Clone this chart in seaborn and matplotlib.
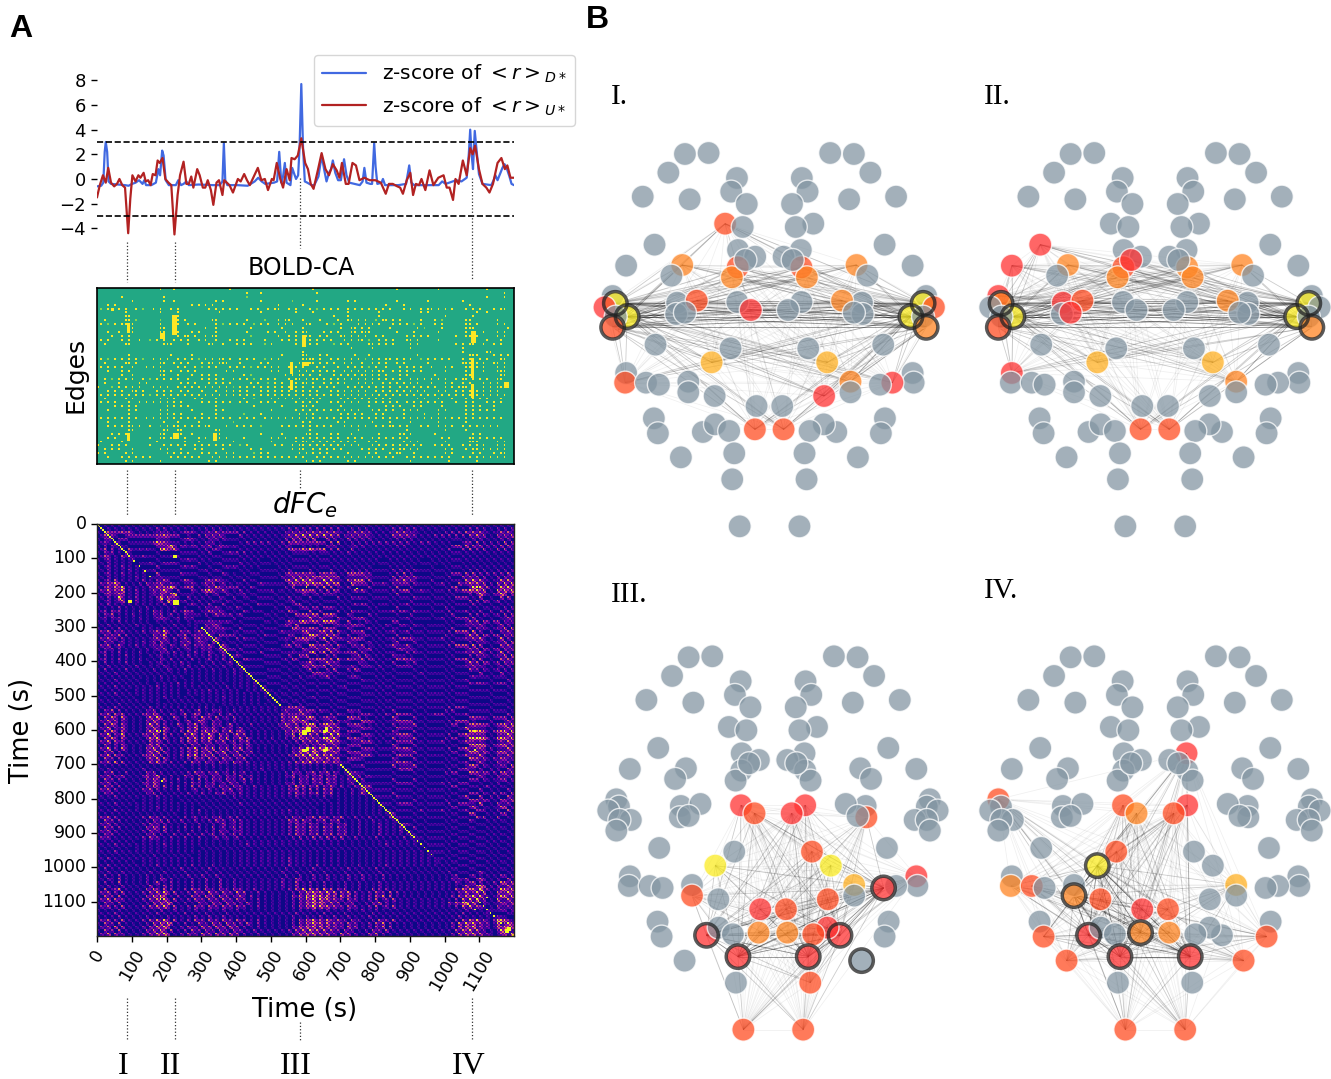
import numpy as np
import pandas as pd
import seaborn as sns
import matplotlib.pyplot as plt
from matplotlib.collections import LineCollection
from matplotlib.lines import Line2D
from matplotlib.transforms import blended_transform_factory

W, H = 1331, 1079

# z-score traces (time in s, value)
blue_t = [0, 12, 18, 22, 25, 29, 33, 40, 60, 80, 90, 100, 110, 120, 130, 135, 140, 155, 168, 175, 180, 186, 190, 196, 205, 225, 232, 240, 247, 255, 262, 290, 330, 350, 358, 362, 366, 372, 400, 430, 450, 460, 470, 480, 505, 514, 520, 526, 531, 536, 541, 552, 557, 563, 568, 574, 578, 583, 588, 593, 600, 612, 620, 632, 641, 648, 655, 662, 668, 673, 680, 688, 696, 705, 712, 720, 735, 750, 758, 763, 769, 780, 785, 791, 795, 800, 812, 816, 822, 860, 882, 891, 897, 905, 950, 975, 985, 995, 1025, 1040, 1055, 1061, 1065, 1069, 1073, 1078, 1083, 1090, 1100, 1125, 1132, 1137, 1143, 1150, 1157, 1163, 1170, 1177, 1183, 1190]
blue_v = [-0.6, -0.55, -0.3, 2.2, 3.0, 2.2, -0.2, -0.4, -0.45, -0.5, -0.55, -0.4, -0.3, -0.1, -0.4, -0.1, -0.5, -0.5, -0.3, 0.8, 0.3, 2.3, 1.9, -0.1, -0.5, -0.5, -0.1, -0.5, -0.4, -0.2, -0.5, -0.45, -0.5, -0.5, -0.2, 2.9, -0.1, -0.5, -0.5, -0.55, -0.2, 0.1, -0.2, -0.4, -0.3, -0.2, 2.2, -0.3, 0.2, 1.3, -0.3, -0.5, 0.9, 0.4, 0.0, 0.3, 2.5, 7.7, 2.5, -0.2, -0.3, -0.5, -0.5, 0.2, 1.9, 0.8, -0.2, 0.5, 0.8, 1.5, 0.5, -0.1, -0.1, 1.6, 0.3, -0.3, -0.4, -0.5, -0.2, 0.9, -0.3, -0.4, -0.4, 2.9, 1.0, -0.4, -0.3, 0.0, -0.5, -0.5, -0.4, 1.1, -0.3, -0.5, -0.5, -0.5, -0.2, -0.4, -0.1, -0.2, 0.1, 2.0, 4.0, 2.0, 0.8, 3.9, 2.4, 0.4, -0.4, -0.5, -0.1, 0.3, -0.1, 0.4, 0.9, 1.2, 0.8, 0.2, -0.4, -0.5]
red_t = [0, 8, 17, 25, 32, 40, 49, 57, 64, 72, 80, 89, 95, 101, 110, 118, 124, 133, 139, 146, 153, 159, 167, 173, 179, 187, 195, 204, 212, 221, 230, 237, 247, 255, 262, 269, 275, 286, 293, 302, 309, 316, 325, 332, 341, 348, 358, 363, 378, 388, 402, 410, 420, 428, 436, 446, 459, 469, 479, 488, 499, 504, 513, 523, 531, 541, 550, 555, 564, 573, 583, 594, 602, 610, 618, 631, 641, 652, 662, 673, 684, 692, 699, 710, 718, 729, 739, 749, 763, 778, 794, 810, 824, 833, 844, 857, 865, 873, 884, 894, 902, 910, 919, 926, 937, 949, 960, 974, 989, 998, 1006, 1016, 1023, 1032, 1044, 1055, 1065, 1072, 1079, 1090, 1100, 1111, 1120, 1130, 1143, 1154, 1164, 1171, 1180, 1190]
red_v = [-1.5, -0.5, 0.3, -0.3, 0.9, -0.3, -0.6, -0.4, 0.0, -0.5, -0.7, -4.4, -1.6, 0.3, -0.2, 0.3, 0.1, 0.5, -0.2, -0.1, -0.5, 0.4, 0.3, 1.5, 1.3, 1.7, 0.0, -0.3, -0.5, -4.5, -1.3, 0.3, 1.4, -0.4, -0.4, 0.2, -0.7, 0.8, 0.3, -0.7, -0.7, -0.1, -0.9, -2.1, -0.3, -0.1, -1.3, -0.1, -0.5, -1.1, 0.0, -0.2, 0.4, -0.1, -0.5, 0.1, 0.9, -0.1, 0.0, -0.9, 0.0, -0.1, 1.3, 0.0, -0.7, 0.8, -0.1, 1.7, 1.6, 1.9, 3.3, 1.3, 0.8, -0.4, -0.8, 0.8, 2.1, 0.8, 0.3, 1.2, 0.7, 0.1, 1.3, -0.4, -0.4, 1.3, 1.1, -0.1, 0.1, -0.1, -0.1, -0.3, -1.2, -0.4, -0.4, -0.6, -0.7, -1.2, -0.1, 0.5, -1.3, -0.4, -0.5, 0.0, -0.9, 0.7, -0.5, 0.1, 0.3, -0.7, -0.7, -1.7, 0.0, -0.4, 1.5, 0.3, 2.5, 2.0, 2.7, 0.8, -0.4, -0.7, -1.1, -0.4, 1.3, 1.7, 0.8, 1.1, 0.1, 0.1]
event_times = [86, 222, 580, 1071]
event_names = ["I", "II", "III", "IV"]

# BOLD-CA raster, 120 time bins by edge rows: . background, 5 pale, 9 bright
edge_rows = [
    "..................9...9...............9.......................9.......................9...........9.............9.......",
    "...........................................9...9...............9.....................................................9.",
    ".......9...........9.......................5....................................................................9....9..",
    "..........9........9..9...........9.9..........9........5......9........9.9...........9........9.........9.............",
    "...9.9.....................9.9.9.9..................9......9.......................9....9..................9...........",
    ".5.99.9.9..9.5..9.9..9.9........9.9.9.9.9...9.9..9.99..9.9...9.5.9.9.9..9.9.9.9.9.9.9...9.9..9.99.9.9.9...9.9.9...9.99.",
    "........9.........9....9...........9...........9.........9....9.........9........9...........9.9.............9..9.......",
    "........99............99............................................9...9........9..................9.......9...........",
    "..9.....99.5......5...99.9.......99........9....5...9.99...9....9....9..99.9.9..5.99.9.9.....9...9.5......99.......9....",
    ".9.5.9.99.9.......9...99..9.9.....9.5.9.9.9..5.9.9..9.9.9...99....9.5.9....9.9.9.9...9.9.9.5.9...9.9......99.9.....9.9.",
    "..........9.......99...........9..9.........9........9.....9..........9..99.9.9.....9.......9.5....9......999.........9.",
    "...9..9...9.......99...9...9.9....9........9.....9.9..9..9.99....9.9.9...99.999.......9....9......9.......9.9..9...9.9..",
    "....9..9.9........9....9.99.9..9.99.........5.......9..9.9..99..9.9...99.9.9.9..9.9......9.9.9.9.......9..99.9.....9.9.",
    ".9.9...9.9..9..5.9.9..9.9.9..9.9..9...9.9.9.....9....9.9.9.9.9.9.9.9...9.9.99.5..9.9.9...99.9.....9.........9...9...9..",
    "..9.....99.........999....9.....99..9...9.9.9...5.9......9.9.9.9....5.9.9.....99.9.9.9....9.9..........9.9.99..9..9.9...",
    ".........................................................................9.....9..........9..............9..............",
    "...........................................................9.............................................9......99.....",
    ".........9...........9.....9.........................9.....99...9.9.......9...9.............9..............999....9.9.9..",
    ".9.5.9.9.9.9.5..9.9.9..9.9.9.5.9.9.99.9..9.9.9..5.9.9......9999.9..9.9.9.9.9.5.9.9.99.9.9.9..5.9.9.9.9...9.9..9.9...99.",
    "..9.....99.9......99..9.9.9...9.99.999...9.....9.9........99.99.9.9.9..9.9..9..9.9.9..9.9......9.........999.9.9..99.9.",
    ".9.9.9.9..9...9.9.9....9.9..9.5.9.9...9.9.9.5.9.9.9.9..9.9.9...9.9...9..9.9.9.5.9..9...9.9.9.9..9...9.9...9999.9...9.9.",
    "...9...9.9........99.9..9.9.9........9.9..........9.9...9.9.9.9.9.9.9..9.9.9.9.9.99..9.9.9.9.9......9.....9.9..9...999.",
    ".......9..9.......99...9...9..9.9.9.......9.5.........9.9.99.9..9...9.9.9.9.99.9.9.9...9.9.......9........99........99.",
    "..9.5.9.9.9..9.5.9.9.9.9..9...9.9.9.9..9.9.9.5.9.9.9...9.99.9.99.9.9.9.9.9.9.9.9.9.9.9.9..9.9.9.9.9.9..9.99.9.9.9..99.",
    "..9...9.....9.9.........9.9.9...9.9.9.9.....9.9..5.9.9...9.99.9..9.9.9.9...9.9.9..9.9.9.9.9.9...9...9.9..9.9...9.9.9...",
    "9...5.9.9.9.9...9.9.9..9.9.9.9.9.9.9.9.5.9.9.9.9.9.9.9.9.9.9..9.9.9.9...9.9.9.9.9.9.9..9.9.9.9.9.9..9.9.999.9..9.9.99.",
    "...9.9.9..99.9...9.9.9..9.9...9...9..9.9.9.9...9.9.9.9.9.9.9.9.9...9.9.9.9.9.9..9.9.9.9.9.9.9.9...9.9..9.9.9.9.9.9.9..",
    ".9.9.9.9.9.9.9.5.9.9.9.9.9.9.9.9.9.9.9.9.9.9.9.9.9.9.9.9.9.9.9.9.9.9.9.9.9.9.9.9.9.9.9.9.9.9.9.9.9.9.9.9.9.9.9.9.9.9.9",
    "..9.....9.9.......9.9.9.....9.9...9.......9..5....9.9.9.9.9.9.9.9.....9.9.9.9.9.9.9.9.......9.9...9...9...9.9.9.9...9..",
    ".9.9.9...9..9.9.9.9.9.9.9.....9.9.9.9.9..9.9...9.9.9.....9.9.9.9...9.9.9.9.9..9.9.9.9.9..9.9.9.9.9.9...9..9.9...9.9.9.",
    ".....9.9.9.9........9.9.9.9.......9..........9.......9.....99.9.......9.......9....9.9.9...9.9.....9......9.9.9...9.....",
    "...9.....9.9......9.9......9......9.9.............9......9.9.9.9.9.9.9.9.9.9...9.9.9.9..9.9.9.....9.9.....9.9.9.9.9.....",
    ".........9........9.9.9.9.....9...9.......5....9..........9.9.9.......9.9.9.9...9.9.....9.....9...9.......9.9...........",
    ".9.9.9.9.9.9..9.9.9.9.9.9.9.9.9.9.9.9.9..9.9.9..9.9.9.9.9.9.9.9.9.9.9.9.9.9.9.9.9.9.9.9.9.9.9.9.9.9.9.9.9.9.9.9.9.9.9.",
    "...9.....9.........9...9.....9.........5...................9.9.......9.9.......9....9.....9.......9.......9.............",
    "...9.9.9.99.9..9..5.9.99.9.9.9.99....9..9.9.9..5.....9.9.9.9.9.9.9.9...9.9.9.9..9.9.99.9.9...9.9..9.9.9..9.9.9.9.9.9...",
    ".........99........99..99.........99.........................9.............9.............9..........9.....9.............",
    "....9.9.99........99....9..9.......9...........9.....9......99.9...9.9...9.......9.....99.9......9..........9.9.........",
    "...9.9.........9..99.9...9...9.9...9.9....9.......9.9.9..9.9.9.9.9.9.9..9.9.9..9.9.9.9.9.9.........9.9.....99.9.9.9.9..",
    ".9.....9.........9.......9...9.........9..........9......9.99.9.9.9.9.9.9.9...9.9.......9.9.9.......9......999.....9.9.",
    "9...9.9.9......9...9.9.9.9..9.9.9.9.9.9..5.9.......9.9..9.99.9.9.9.9.9.9.9.9...9.9.9.9.9.9.9.9...9.9.9...9.9.9.9...9.9.",
    "..9.9.9...9.......9.9...9...9.9.....9.......9..9........9.99..9.9.9.9.9.....9.9.9.9..9.99.9.9.......9.9...9.99.9.9.9.9.",
    "9.9.....9.9.........9.9.9.9...9.9.9..9.9.....5.9.9........9.9.9.9.9.....9.....9.9...9.99...9........9.9.....9.9...9.99.",
    "...9...9.9.9.9.9.....9.9.9.9.9...9.9.9.9.9.9.9.9.9.9.9.9.9.9...9.9.9.9.9.9.9.9.9.9.9.9...9.9.9.9.9.9.9...9.9.9.9.9.9.9",
    "........9.9.......9.............9.9.........................9.9.9.......9.9...............9..........9.......9.........",
]
# bright clumps of the raster: time s, fine row, width and height in fine cells
edge_clumps = [(89, 18, 2, 5), (219, 14, 3, 10), (180, 23, 3, 3), (223, 74, 3, 3), (335, 74, 2, 4), (593, 24, 2, 6), (559, 38, 2, 6), (559, 47, 2, 5), (593, 38, 4, 2), (1079, 22, 3, 6), (1079, 36, 2, 10), (1079, 49, 2, 7), (1170, 48, 3, 3), (89, 74, 2, 4), (40, 10, 2, 2)]

# dFC_e lower triangle, 120 x 120 bins of 10 s, digit is tenths of the colour range
dfc_rows = [
    "1",
    "01",
    "102",
    "0131",
    "10221",
    "012103",
    "1020210",
    "01302011",
    "102120104",
    "0132010312",
    "10120101012",
    "010201010100",
    "1012010201010",
    "01020101020101",
    "101201020101010",
    "0102010101020101",
    "10120301010102010",
    "021325201010203122",
    "1023142601010102142",
    "02141325010201013135",
    "102312430102010121421",
    "0102019201020101029142",
    "10120124010201010130821",
    "010201010101010101020101",
    "1010102010101020101010100",
    "01202120101020103120102013",
    "102130101020101021301201021",
    "0120212010102010123210120212",
    "10101020101010100101010100101",
    "010201010102010100101020101010",
    "1010102010100101010201010100101",
    "02130212010102012315201021201311",
    "102121302010101031250102130121213",
    "0213120201010101231310201310231210",
    "10312012010102013041201021301321031",
    "021301310102010121310210131021213102",
    "1021202010101020121301020120102120131",
    "01201020101020101021202010102010210120",
    "102010102010100101201010102010102010201",
    "0120102010102010102102010102010120102010",
    "10201010201010010120101020100101020101201",
    "010201010102010101021010102010201010201010",
    "1020101020101010201021010201010102010102012",
    "01010201010101010101010101010101010101020101",
    "101010101010101010201010100101010101010101010",
    "0101020101010010101010100101010101010101010101",
    "10101010101010100101010201010010101010010101010",
    "010102010101010102010101010101010101020101010101",
    "1010101010010101010101010010101020101010100101010",
    "01010201010101010101010100101010101010101010101010",
    "101010101010010101020101010100101010201010101010101",
    "0101010101010101010010101010101010101010101010100101",
    "10101020101010100101010101010101010010101010101010101",
    "010102010101010201010101010101020101010101010101010101",
    "1021302010101021302010102010130102120102010101010101013",
    "02130313010102314201021013013201210301201010101010101312",
    "103142041010102415301031020120412030120301010101010103124",
    "0214130210101031520201020130143103120102010101010101031252",
    "10314203101010251302010310214021031201301010201010102152130",
    "021502141010103152042010203150231410312013010101010102131524",
    "1031420310101024260310102041302514202140231010101010103142523",
    "02150215010102315203020103152031520413024130101010101021505214",
    "103142031010102425031010204140315204150214031010102010203152413",
    "0214031201010103132020102031302130213013021301010101010102031314",
    "10310203101010241402010102031203120212031203101010101020102130213",
    "021502041010103261402010203150241503140314021010101010102141526152",
    "1031302010101024150310102031403140315021402130101010101031526173152",
    "02140312010102325130201020415024140213031302010101010102142517261425",
    "103120201010102314031010102031203120312021301010101010102031415231413",
    "0213040301010103141202010203120312031204120201010101010203142513142132",
    "10101010101010101010101010010101020101010101010101010101010101010101011",
    "010201010101020101010101010102010101020101010102010101010201010102010101",
    "1021301020101031302010101020312021301203012010101010102031202130213021012",
    "02130213010102412501020103120312031203120301201010101021402130213021301021",
    "103120201010103142030102010203020312031201302010101010102031203120312010213",
    "0213020101010231520102010203120213012031202010101010102130312021303120101301",
    "10312020101010314203010201030203120312031201020101010102041302130213102010212",
    "021302010101021302010102010120102010213012010101010101021302030203130101020131",
    "1021201010101021302010101020102010213012020101010101010203120213021301010201312",
    "01010201010101010201010101010101010101020101010101010101020101010201010101010101",
    "101010101010010101010100101010101010101010101010101010101010101010100101010101010",
    "0101020101010101010101010101010101010101020101010101010101010101010101010101010101",
    "10101010100101010201010101010010101010101010101010101010101010100101010101010101010",
    "010102010101010101010101010102010101010101010101010101020101010101010101010101010101",
    "1010101010101010101010100101010101010101010101010101010101010101010101010101010101011",
    "02130201010102031202010102012012021301202010101010101020312021303120213010201020101021",
    "103120201010102031303010201020102031201302010101010101031303120213021301010201020101012",
    "0213020101010203120201010201020102013012020101010101010203120312021302130102010102010102",
    "10312020101010314203010102010201030120130201010101010102031203120312031201020101020101021",
    "021302010101020312030102010201020203120212010101010101020312031203120213010201010201010201",
    "1021201010101021302010201020102013012013020101010101010203120213021302130102010102010101011",
    "02120101010102031201020102010201012012012010101010101010203020302030203010201010201010102011",
    "101010101010010101010101010101010101010101010101010101010101010101010101010101010101010101011",
    "0101020101010101010201010101010101010101010201010101010101010101010101010101010101020101010101",
    "10101010100101010101010101010010101010101010101010101010101010101010101010101010101010101010101",
    "010102010101010101010101010101010101010101010101010101010101010101010101010101010101010101010101",
    "1010101010101010201010101010010101010101010101010101010101010101010101010101010101010101010101011",
    "01020101010101010101010101010101010101010101010101010102010101010101010101010101010101010101010101",
    "101010101010010101010101010101010101010101010101010101020101010101010101010101010101010101010101011",
    "0102010101010101020101010102010102010101010101010101010201010102010101010102010101020101010101010101",
    "10201010101010101010101020101010201010101010101010101020101010201010101020101010201010101010101010101",
    "010201020101010201020101020101020102010101010101010102010201020102010102010201010201010101010101010102",
    "1020102010101020102010101020102010201010101010101010102010201020102010102010201010201010101010101010101",
    "01021030101010201032020101020103010301020101010101010201032010201020101020102010102010101010101010101021",
    "102010301010102013010201010201020103010201010101010102010301020102010102010201010201010101010101010101021",
    "0102010201010103010302010102010301030102010101010101020103010201020101020102010102010101010101010101010101",
    "10301240101010314203020102031203120312031201020101010102031504130413021301020103020201010101010101010103142",
    "021302030101020314152030102031204120312041301020101010102031525241514031402010203120302010101010101010102141",
    "1031203010101031526301020103120413041302131020101010101031415262514130413020102031403010101010101010102031426",
    "02140312010102031415203010203120312031203120102010101010203142615241312031201020301203010101010101010102041519",
    "103120301010102041526301020103120413041302031020101010102031526253141302130102031402010101010101010103142691510",
    "0213020301010203141520301020312031203120312010201010101020314261524131203120102030120301010101010101010204151321",
    "10101020101010201030102010102010201020102010101010101010102010201020101020102010201010101010101010101010102010102",
    "010102010101010102010101020101020101020101010101010101010201010102010102010101020101010101010101010101010201010110",
    "1010102010101020101020101010201020102010101010101010101020102010201020102010102010101010101010101010101020101010101",
    "02130203010102031415203010203120312031203120102010101010203142513142131203120102031203010101010101010102031425131029",
    "103120301010102041526301020103120413041302031020101010102031425241413120312010203140201010101010101010204152513120151",
    "0213040301010203152630102031204130413041302010201010101031526251514131204130102031403010101010101010102041526131201536",
    "10312030101010314152030102031203120312031201020101010102031415241413120312010203120301010101010101010103142514120102631",
    "021403120101020315263010203120413041304130201020101010103152625141412041302010314020101010101010101010204152514121013419",
    "1031204010101031426304010314031403140314021020101010102041526251514130413020103140301010101010101010103152615131201024199",
]

diag_segments = [(0, 90, 1), (90, 165, 3), (300, 530, 1), (700, 910, 1), (910, 970, 2), (1080, 1200, 2)]
dfc_hot = [(220, 90, 2), (220, 222, 3), (90, 222, 1), (600, 590, 3), (600, 650, 2), (655, 590, 2), (655, 650, 2), (600, 1085, 1), (655, 1085, 1), (182, 600, 1), (182, 1090, 1), (1175, 1180, 2), (1120, 1085, 1), (745, 185, 1)]

# brain nodes, one list for each hemisphere, position read in the panel I crop
node_x_left = [281, 351, 232, 156, 295, 435, 418, 464, 400, 452, 191, 107, 273, 241, 438, 489, 437, 420, 460, 67, 75, 43, 110, 76, 67, 258, 316, 255, 281, 436, 476, 194, 416, 360, 107, 104, 166, 204, 291, 291, 369, 493, 488, 189, 201, 334, 370, 412, 269, 427, 421, 443]
node_x_right = [781, 711, 830, 906, 767, 627, 644, 598, 661, 609, 872, 955, 789, 821, 624, 573, 626, 642, 600, 995, 986, 1018, 950, 986, 995, 805, 746, 807, 781, 626, 586, 868, 646, 702, 955, 958, 895, 858, 771, 771, 693, 569, 573, 873, 861, 729, 692, 650, 793, 635, 641, 620]
node_y = [72, 69, 128, 200, 208, 144, 185, 222, 281, 291, 344, 407, 405, 437, 360, 380, 412, 442, 390, 498, 520, 532, 560, 560, 592, 518, 512, 552, 548, 516, 540, 644, 655, 697, 729, 758, 758, 764, 755, 787, 798, 828, 898, 865, 910, 906, 883, 903, 982, 970, 1048, 1189]
node_ids = [1, 2, 3, 4, 5, 6, 7, 8, 9, 10, 11, 12, 13, 14, 15, 16, 17, 18, 19, 20, 21, 22, 23, 24, 25, 27, 28, 29, 30, 31, 32, 33, 34, 35, 36, 37, 38, 39, 40, 41, 42, 43, 44, 45, 46, 47, 48, 49, 50, 51, 52, 53]

panel_names = ["I.", "II.", "III.", "IV."]
panel_levels = [
    {"L9": "s", "L13": "o", "R13": "o", "L17": "s", "L18": "o", "R17": "s", "R18": "o", "L21": "y", "L22": "r", "L23": "y", "L25": "s", "R21": "y", "R22": "s", "R23": "y", "R25": "o", "L28": "s", "R28": "o", "L32": "r", "L35": "a", "R35": "a", "L37": "s", "R40": "o", "R38": "r", "R42": "r", "L44": "s", "R44": "s"},
    {"L11": "r", "L12": "r", "L20": "r", "L21": "o", "L23": "y", "L25": "s", "R21": "y", "R23": "y", "R25": "o", "L13": "o", "L19": "r", "L17": "s", "L18": "o", "R13": "o", "R17": "o", "R18": "o", "L27": "r", "L30": "r", "L28": "s", "R28": "o", "L35": "a", "R35": "a", "L36": "r", "R40": "o", "L44": "s", "R44": "s"},
    {"L31": "r", "L32": "s", "R32": "r", "R31": "r", "R34": "s", "L35": "y", "R35": "y", "R29": "s", "R36": "r", "R39": "r", "R40": "a", "L41": "s", "R42": "s", "L43": "r", "R43": "s", "L44": "o", "R44": "o", "R49": "s", "R48": "r", "R47": "r", "L47": "r", "L51": "r", "R51": "r", "R52": "s", "L53": "s", "R53": "s"},
    {"L20": "s", "R15": "r", "L31": "s", "L32": "o", "R32": "s", "R31": "r", "L34": "s", "L35": "y", "R40": "a", "L37": "o", "L38": "s", "L41": "o", "L42": "s", "L43": "r", "R43": "s", "L44": "o", "R44": "o", "L47": "r", "L46": "s", "R46": "s", "L50": "s", "R50": "s", "L51": "r", "R51": "r", "L53": "s", "R53": "s"},
]
panel_rings = [
    ["L21", "L23", "L25", "R21", "R23", "R25"],
    ["L21", "L23", "L25", "R21", "R23", "R25"],
    ["R39", "L47", "R47", "L51", "R51", "R50"],
    ["L35", "L41", "L44", "L47", "L51", "R51"],
]
level_colors = {"n": "#8496a3", "r": "#ff3333", "s": "#ff4d23", "o": "#ff8523", "a": "#ffb023", "y": "#fbec23"}


def add_axes_px(x0, y0, x1, y1):
    return fig.add_axes([x0 / W, 1 - y1 / H, (x1 - x0) / W, (y1 - y0) / H])


sns.set_style("white")
plt.rcParams["font.family"] = ["DejaVu Sans"]
plt.rcParams["text.color"] = "black"
plt.rcParams["xtick.color"] = "black"
plt.rcParams["ytick.color"] = "black"
fig = plt.figure(figsize=(W / 100, H / 100), dpi=100)

# z-score traces
ax_ts = add_axes_px(97, 60, 514, 240)
sns.lineplot(x=blue_t, y=blue_v, color="royalblue", lw=1.6, ax=ax_ts, label=r"z-score of $<r>_{D*}$")
sns.lineplot(x=red_t, y=red_v, color="firebrick", lw=1.6, ax=ax_ts, label=r"z-score of $<r>_{U*}$")
ax_ts.axhline(3, color="black", ls="--", lw=1.2)
ax_ts.axhline(-3, color="black", ls="--", lw=1.2)
ax_ts.set_xlim(0, 1190)
ax_ts.set_ylim(-4.95, 9.65)
ax_ts.set_yticks([-4, -2, 0, 2, 4, 6, 8])
ax_ts.set_xticks([])
ax_ts.patch.set_alpha(0)
sns.despine(ax=ax_ts, left=True, bottom=True)
ax_ts.tick_params(axis="y", left=True, length=4, width=1, labelsize=13, pad=4)
ax_ts.legend(
    loc="upper left",
    bbox_to_anchor=(314 / W, 1 - 55 / H),
    bbox_transform=fig.transFigure,
    fontsize=14.5,
    borderaxespad=0,
    frameon=True,
    handlelength=2.2,
)

# BOLD-CA raster, every coarse value lands on one fine cell so the specks stay small
edges = np.zeros((2 * len(edge_rows), 240))
for i, r in enumerate(edge_rows):
    for j, c in enumerate(r[:120]):
        if c != ".":
            edges[2 * i, 2 * j] = int(c) / 9
for t, row, w, h in edge_clumps:
    edges[row : row + h, t // 5 : t // 5 + w] = 1
ax_edges = add_axes_px(97, 288, 514, 464)
sns.heatmap(edges, cmap="viridis", vmin=-1.5, vmax=1, cbar=False, xticklabels=False, yticklabels=False, ax=ax_edges)
for s in ax_edges.spines.values():
    s.set_visible(True)
    s.set_color("black")
    s.set_linewidth(1.2)

# dFC_e matrix, the lower triangle mirrored and split to 5 s bins
dfc = np.zeros((240, 240))
for i, r in enumerate(dfc_rows[:120]):
    for j, c in enumerate(r[: i + 1]):
        v = int(c)
        for a, b in [(i, j), (j, i)]:
            dfc[2 * a, 2 * b] = min(1, v / 5.5)
            dfc[2 * a + 1, 2 * b + 1] = min(1, v / 10)
            dfc[2 * a, 2 * b + 1] = dfc[2 * a + 1, 2 * b] = v / 22
for start, stop, step in diag_segments:
    for k in range(start // 5, stop // 5, step):
        dfc[k, k] = 1
for t1, t2, size in dfc_hot:
    dfc[t1 // 5 : t1 // 5 + size, t2 // 5 : t2 // 5 + size] = 1
    dfc[t2 // 5 : t2 // 5 + size, t1 // 5 : t1 // 5 + size] = 1

ax_dfc = add_axes_px(97, 524, 514, 936)
sns.heatmap(dfc, cmap="plasma", vmin=0, vmax=1, cbar=False, ax=ax_dfc)
time_ticks = list(range(0, 1200, 100))
ax_dfc.set_xticks([t / 5 for t in time_ticks])
ax_dfc.set_yticks([t / 5 for t in time_ticks])
ax_dfc.set_xticklabels(time_ticks, rotation=60, fontsize=12.5)
ax_dfc.set_yticklabels(time_ticks, rotation=0, fontsize=12.5)
ax_dfc.tick_params(left=True, bottom=True, length=4, width=1)
for s in ax_dfc.spines.values():
    s.set_visible(True)
    s.set_color("#222222")
    s.set_linewidth(1)

# titles and labels
fig.text(301 / W, 1 - 268 / H, "BOLD-CA", fontsize=17, ha="center", va="center")
fig.text(76 / W, 1 - 375 / H, "Edges", fontsize=18, rotation=90, ha="center", va="center")
fig.text(305 / W, 1 - 505 / H, r"$dFC_e$", fontsize=20, ha="center", va="center")
fig.text(22 / W, 1 - 730 / H, "Time (s)", fontsize=18.5, rotation=90, ha="center", va="center")
fig.text(305 / W, 1 - 1010 / H, "Time (s)", fontsize=18.5, ha="center", va="center")
fig.text(21 / W, 1 - 29 / H, "A", fontsize=23, fontweight="bold", family="Liberation Sans", ha="center", va="center")
fig.text(597 / W, 1 - 20 / H, "B", fontsize=23, fontweight="bold", family="Liberation Sans", ha="center", va="center")

# dotted guides from the events down through the panels
guide = blended_transform_factory(ax_ts.transData, fig.transFigure)
guide_spans = [(242, 282), (470, 516), (998, 1040)]
guide_first = [(178, 248), (178, 280)]
for k, t in enumerate(event_times):
    spans = list(guide_spans)
    if k == 2:
        spans = [guide_first[0], (470, 488), (1022, 1040)]
    elif k == 3:
        spans = [guide_first[1], (470, 516), (998, 1040)]
    for y0, y1 in spans:
        fig.add_artist(Line2D([t, t], [1 - y0 / H, 1 - y1 / H], transform=guide, color="#333333", ls=":", lw=0.9))
    x_label = ax_ts.transData.transform((t, 0))[0] - 4
    fig.text(x_label / W, 1 - 1067 / H, event_names[k], fontsize=23, family="Liberation Serif", ha="center", va="center")

# brain networks
names = ["L%d" % i for i in node_ids] + ["R%d" % i for i in node_ids]
nodes = pd.DataFrame({"name": names, "x": node_x_left + node_x_right, "y": node_y + node_y})
nodes = nodes.set_index("name", drop=False)
panel_origin = [(590, 130), (975.7, 130), (593.7, 633.3), (975.7, 633.3)]
title_pos = [(611, 97), (984, 97), (611, 595), (984, 591)]

for p in range(4):
    x0, y0 = panel_origin[p]
    ax = add_axes_px(x0, y0, x0 + 360, y0 + 410)
    ax.set_xlim(0, 360 * 2.96)
    ax.set_ylim(1230, 0)
    ax.patch.set_alpha(0)

    levels = panel_levels[p]
    rings = panel_rings[p]
    active = list(levels.keys())
    segs, cols = [], []
    for i, a in enumerate(active):
        for b in active[i + 1 :]:
            segs.append([(nodes.x[a], nodes.y[a]), (nodes.x[b], nodes.y[b])])
            n_ring = (a in rings) + (b in rings)
            cols.append((0, 0, 0, [0.06, 0.2, 0.45][n_ring]))
    ax.add_collection(LineCollection(segs, colors=cols, linewidths=0.6, zorder=1))

    df = nodes.copy()
    df["level"] = [levels.get(n, "n") for n in df["name"]]
    sns.scatterplot(
        data=df, x="x", y="y", hue="level", palette=level_colors, s=275, alpha=0.75,
        edgecolor="white", linewidth=1, legend=False, ax=ax, zorder=2, clip_on=False,
    )
    ring_df = nodes.loc[rings]
    sns.scatterplot(
        data=ring_df, x="x", y="y", s=285, facecolor="none", edgecolor="#222222",
        linewidth=2.5, alpha=0.75, legend=False, ax=ax, zorder=3, clip_on=False,
    )
    ax.set_axis_off()
    fig.text(title_pos[p][0] / W, 1 - title_pos[p][1] / H, panel_names[p], fontsize=21, family="Liberation Serif", ha="left", va="center")

plt.savefig("out.png", dpi=100)
